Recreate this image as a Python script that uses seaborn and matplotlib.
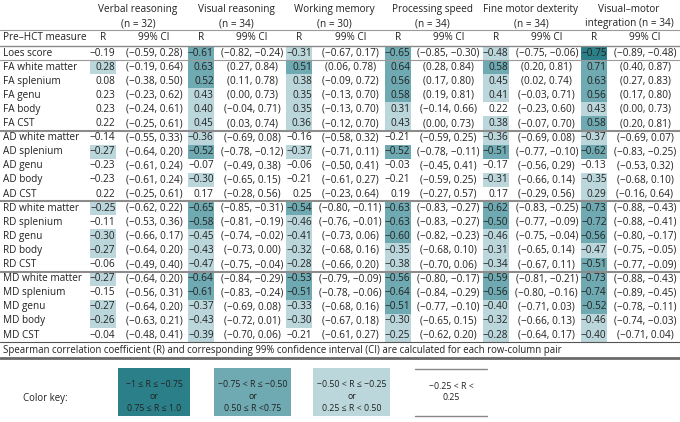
import numpy as np
import matplotlib
matplotlib.use("Agg")
import matplotlib.pyplot as plt
from matplotlib.colors import ListedColormap
from matplotlib.patches import Rectangle
import seaborn as sns

# row labels (pre-HCT measures)
measures = ["Loes score",
            "FA white matter", "FA splenium", "FA genu", "FA body", "FA CST",
            "AD white matter", "AD splenium", "AD genu", "AD body", "AD CST",
            "RD white matter", "RD splenium", "RD genu", "RD body", "RD CST",
            "MD white matter", "MD splenium", "MD genu", "MD body", "MD CST"]

outcomes = ["Verbal reasoning", "Visual reasoning", "Working memory",
            "Processing speed", "Fine motor dexterity", "Visual\u2013motor"]
n_obs = [32, 34, 30, 34, 34, 34]

verbal_r = [-0.19, 0.28, 0.08, 0.23, 0.23, 0.22, -0.14, -0.27, -0.23, -0.23, 0.22,
            -0.25, -0.11, -0.30, -0.27, -0.06, -0.27, -0.15, -0.27, -0.26, -0.04]
verbal_ci = [(-0.59, 0.28), (-0.19, 0.64), (-0.38, 0.50), (-0.23, 0.62), (-0.24, 0.61),
             (-0.25, 0.61), (-0.55, 0.33), (-0.64, 0.20), (-0.61, 0.24), (-0.61, 0.24),
             (-0.25, 0.61), (-0.62, 0.22), (-0.53, 0.36), (-0.66, 0.17), (-0.64, 0.20),
             (-0.49, 0.40), (-0.64, 0.20), (-0.56, 0.31), (-0.64, 0.20), (-0.63, 0.21),
             (-0.48, 0.41)]

visual_r = [-0.61, 0.63, 0.52, 0.43, 0.40, 0.45, -0.36, -0.52, -0.07, -0.30, 0.17,
            -0.65, -0.58, -0.45, -0.43, -0.47, -0.64, -0.61, -0.37, -0.43, -0.39]
visual_ci = [(-0.82, -0.24), (0.27, 0.84), (0.11, 0.78), (0.00, 0.73), (-0.04, 0.71),
             (0.03, 0.74), (-0.69, 0.08), (-0.78, -0.12), (-0.49, 0.38), (-0.65, 0.15),
             (-0.28, 0.56), (-0.85, -0.31), (-0.81, -0.19), (-0.74, -0.02), (-0.73, 0.00),
             (-0.75, -0.04), (-0.84, -0.29), (-0.83, -0.24), (-0.69, 0.08), (-0.72, 0.01),
             (-0.70, 0.06)]

memory_r = [-0.31, 0.51, 0.38, 0.35, 0.35, 0.36, -0.16, -0.37, -0.06, -0.21, 0.25,
            -0.54, -0.46, -0.41, -0.32, -0.28, -0.53, -0.51, -0.33, -0.30, -0.21]
memory_ci = [(-0.67, 0.17), (0.06, 0.78), (-0.09, 0.72), (-0.13, 0.70), (-0.13, 0.70),
             (-0.12, 0.70), (-0.58, 0.32), (-0.71, 0.11), (-0.50, 0.41), (-0.61, 0.27),
             (-0.23, 0.64), (-0.80, -0.11), (-0.76, -0.01), (-0.73, 0.06), (-0.68, 0.16),
             (-0.66, 0.20), (-0.79, -0.09), (-0.78, -0.06), (-0.68, 0.16), (-0.67, 0.18),
             (-0.61, 0.27)]

speed_r = [-0.65, 0.64, 0.56, 0.58, 0.31, 0.43, -0.21, -0.52, -0.03, -0.21, 0.19,
           -0.63, -0.63, -0.60, -0.35, -0.38, -0.56, -0.64, -0.51, -0.30, -0.25]
speed_ci = [(-0.85, -0.30), (0.28, 0.84), (0.17, 0.80), (0.19, 0.81), (-0.14, 0.66),
            (0.00, 0.73), (-0.59, 0.25), (-0.78, -0.11), (-0.45, 0.41), (-0.59, 0.25),
            (-0.27, 0.57), (-0.83, -0.27), (-0.83, -0.27), (-0.82, -0.23), (-0.68, 0.10),
            (-0.70, 0.06), (-0.80, -0.17), (-0.84, -0.29), (-0.77, -0.10), (-0.65, 0.15),
            (-0.62, 0.20)]

motor_r = [-0.48, 0.58, 0.45, 0.41, 0.22, 0.38, -0.36, -0.51, -0.17, -0.31, 0.17,
           -0.62, -0.50, -0.46, -0.31, -0.34, -0.59, -0.56, -0.40, -0.32, -0.28]
motor_ci = [(-0.75, -0.06), (0.20, 0.81), (0.02, 0.74), (-0.03, 0.71), (-0.23, 0.60),
            (-0.07, 0.70), (-0.69, 0.08), (-0.77, -0.10), (-0.56, 0.29), (-0.66, 0.14),
            (-0.29, 0.56), (-0.83, -0.25), (-0.77, -0.09), (-0.75, -0.04), (-0.65, 0.14),
            (-0.67, 0.11), (-0.81, -0.21), (-0.80, -0.16), (-0.71, 0.03), (-0.66, 0.13),
            (-0.64, 0.17)]

vmi_r = [-0.75, 0.71, 0.63, 0.56, 0.43, 0.58, -0.37, -0.62, -0.13, -0.35, 0.29,
         -0.73, -0.72, -0.56, -0.47, -0.51, -0.73, -0.74, -0.52, -0.46, -0.40]
vmi_ci = [(-0.89, -0.48), (0.40, 0.87), (0.27, 0.83), (0.17, 0.80), (0.00, 0.73),
          (0.20, 0.81), (-0.69, 0.07), (-0.83, -0.25), (-0.53, 0.32), (-0.68, 0.10),
          (-0.16, 0.64), (-0.88, -0.43), (-0.88, -0.41), (-0.80, -0.17), (-0.75, -0.05),
          (-0.77, -0.09), (-0.88, -0.43), (-0.89, -0.45), (-0.78, -0.11), (-0.74, -0.03),
          (-0.71, 0.04)]

all_r = [verbal_r, visual_r, memory_r, speed_r, motor_r, vmi_r]
all_ci = [verbal_ci, visual_ci, memory_ci, speed_ci, motor_ci, vmi_ci]
# cell printed as 0.25 but left unshaded in the original (rounded up from below 0.25)
unshaded = [("AD CST", 2)]

key_labels = ["\u22121 \u2264 R \u2264 \u22120.75\nor\n0.75 \u2264 R \u2264 1.0",
              "\u22120.75 < R \u2264 \u22120.50\nor\n0.50 \u2264 R <0.75",
              "\u22120.50 < R \u2264 \u22120.25\nor\n0.25 \u2264 R < 0.50",
              "\u22120.25 < R <\n0.25"]

shade_colors = ["#ffffff", "#bcd7dc", "#6fa9b1", "#2b7f89"]
txt = "#222222"

sns.set_theme(style="white")
plt.rcParams["font.family"] = ["Open Sans", "DejaVu Sans"]
fs = 7.2

W, H = 680, 422
fig = plt.figure(figsize=(W / 100, H / 100), dpi=100)

# layout (pixels)
grp_x0, grp_dx, rcell_w = 90, 98.2, 26
row_top, row_h = 46, 14.1
n_rows = len(measures)
table_bottom = row_top + row_h * n_rows


def level(v):
    a = abs(v) + 1e-9
    return 3 if a >= 0.75 else 2 if a >= 0.5 else 1 if a >= 0.25 else 0


# shaded R cells: one seaborn heatmap per outcome column
for j, rvals in enumerate(all_r):
    lv = np.array([[level(v)] for v in rvals], dtype=float)
    for name, col in unshaded:
        if col == j:
            lv[measures.index(name), 0] = 0
    x0 = grp_x0 + grp_dx * j
    hax = fig.add_axes([x0 / W, 1 - table_bottom / H, rcell_w / W, row_h * n_rows / H])
    sns.heatmap(lv, ax=hax, cmap=ListedColormap(shade_colors), vmin=-0.5, vmax=3.5,
                cbar=False, xticklabels=False, yticklabels=False)
    hax.axis("off")

ax = fig.add_axes([0, 0, 1, 1])
ax.set_xlim(0, W)
ax.set_ylim(H, 0)
ax.axis("off")


def fmt(v):
    return f"{v:.2f}".replace("-", "\u2212")


# header
for j, (name, n) in enumerate(zip(outcomes, n_obs)):
    x0 = grp_x0 + grp_dx * j
    cx = x0 + grp_dx / 2 - 1
    if j == len(outcomes) - 1:
        l1, l2 = name, f"integration (n = {n})"
    else:
        l1, l2 = name, f"(n = {n})"
    ax.text(cx, 9.5, l1, ha="center", va="center", fontsize=fs, color=txt)
    ax.text(cx, 23.5, l2, ha="center", va="center", fontsize=fs, color=txt)
    ax.text(x0 + rcell_w / 2, 38, "R", ha="center", va="center", fontsize=fs, color=txt)
    ax.text(x0 + 64, 38, "99% CI", ha="center", va="center", fontsize=fs, color=txt)
ax.text(3, 38, "Pre\u2013HCT measure", ha="left", va="center", fontsize=fs, color=txt)

# body
for i, name in enumerate(measures):
    yc = row_top + row_h * (i + 0.5)
    ax.text(3, yc, name, ha="left", va="center", fontsize=fs, color=txt)
    for j in range(len(outcomes)):
        x0 = grp_x0 + grp_dx * j
        r = all_r[j][i]
        lo, hi = all_ci[j][i]
        ax.text(x0 + rcell_w - 0.5, yc, fmt(r), ha="right", va="center", fontsize=fs,
                color=txt)
        ax.text(x0 + 64, yc, f"({fmt(lo)}, {fmt(hi)})", ha="center", va="center",
                fontsize=fs, color=txt)

# rules
ax.plot([0, W], [30, 30], color="#9a9a9a", lw=0.8)
ax.plot([0, W], [row_top, row_top], color="#8a8a8a", lw=1.0)
ax.plot([0, W], [row_top + row_h, row_top + row_h], color="#9a9a9a", lw=0.8)
for k in [6, 11, 16]:
    y = row_top + row_h * k
    ax.plot([0, W], [y, y], color="#8c8c8c", lw=1.5)
ax.plot([0, W], [table_bottom, table_bottom], color="#555555", lw=0.8)
ax.text(3, 350, "Spearman correlation coefficient (R) and corresponding 99% confidence "
        "interval (CI) are calculated for each row-column pair",
        ha="left", va="center", fontsize=6.9, color=txt)
ax.plot([0, W], [358, 358], color="#6a6a6a", lw=2.0)

# colour key
ax.text(23, 398, "Color key:", ha="left", va="center", fontsize=6.9, color=txt)
key_x = [118, 214, 313, 415]
key_w = [72, 77, 77, 72]
for k, lab in enumerate(key_labels):
    if k < 3:
        ax.add_patch(Rectangle((key_x[k], 368), key_w[k], 48,
                               facecolor=shade_colors[3 - k], edgecolor="none"))
        ax.text(key_x[k] + key_w[k] / 2, 396.5, lab, ha="center", va="center",
                fontsize=6.3, color=txt, linespacing=1.4)
    else:
        ax.plot([key_x[k], key_x[k] + key_w[k]], [369, 369], color="#888888", lw=1.0)
        ax.plot([key_x[k], key_x[k] + key_w[k]], [416, 416], color="#888888", lw=1.0)
        ax.text(key_x[k] + key_w[k] / 2, 392, lab, ha="center", va="center",
                fontsize=6.3, color=txt, linespacing=1.4)

fig.savefig("out.png", dpi=100)
